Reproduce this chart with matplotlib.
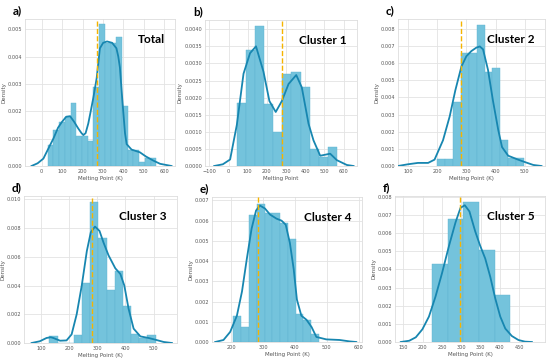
# melting point distributions - total + 5 clusters, 2x3 grid of hist + kde
import numpy as np
import matplotlib
matplotlib.use("Agg")
import matplotlib.pyplot as plt
from matplotlib.ticker import FormatStrFormatter

# ---- panel a) Total ----
total_edges = [29, 57, 85, 113, 141, 169, 197, 225, 253, 281, 309, 337, 365, 393, 421, 449, 477, 505, 533, 561]
total_heights = [0.00075, 0.0013, 0.0016, 0.0018, 0.0023, 0.0011, 0.0011, 0.0009, 0.0029, 0.0052,
                 0.0045, 0.0045, 0.0047, 0.0022, 0.0006, 0.0006, 0.00015, 0.0003, 0.0003]
total_kde_x = [-50, -20, 8, 30, 57, 80, 98, 120, 139, 160, 179, 195, 204, 215, 228, 240, 253, 269, 285,
               301, 320, 345, 366, 375, 383, 395, 408, 416, 440, 481, 510, 546, 580, 636]
total_kde_y = [0.0, 0.0001, 0.00027, 0.0006, 0.001, 0.0014, 0.0016, 0.0018, 0.00182, 0.0016, 0.00137,
               0.0012, 0.00113, 0.0012, 0.00155, 0.002, 0.0025, 0.0032, 0.0043, 0.0045, 0.00455, 0.0045,
               0.0043, 0.004, 0.0036, 0.0024, 0.0012, 0.0008, 0.0006, 0.0005, 0.00035, 0.0002, 0.00008, 0.0]
total_mark = 271

# ---- panel b) Cluster 1 ----
c1_edges = [43 + 47.5 * k for k in range(12)]
c1_heights = [0.00185, 0.0034, 0.0041, 0.0018, 0.001, 0.0027, 0.00275, 0.0023, 0.0005, 0.00025, 0.00055]
c1_kde_x = [-75, -30, 8, 43, 78, 112, 143, 182, 213, 246, 278, 313, 353, 382, 417, 443, 478, 530, 565, 617, 652]
c1_kde_y = [0.0, 0.00005, 0.00019, 0.0012, 0.0027, 0.0033, 0.0035, 0.00276, 0.0019, 0.00158, 0.0019,
            0.0024, 0.00266, 0.0023, 0.00124, 0.00075, 0.0003, 0.00036, 0.00017, 0.00003, 0.0]
c1_mark = 278

# ---- panel c) Cluster 2 ----
c2_edges = [200.6 + 26.9 * k for k in range(12)]
c2_heights = [0.0004, 0.0004, 0.00375, 0.0066, 0.0066, 0.0082, 0.0055, 0.0057, 0.0015, 0.00045, 0.00045]
c2_kde_x = [66, 100, 134, 169, 191, 220, 243, 262, 283, 300, 317, 334, 346, 357, 374, 391, 409, 422,
            443, 477, 500, 529, 557]
c2_kde_y = [0.0, 0.0001, 0.00018, 0.00018, 0.00037, 0.0015, 0.0029, 0.0044, 0.0058, 0.0064, 0.0067,
            0.0069, 0.00697, 0.0068, 0.0056, 0.0038, 0.0021, 0.0011, 0.0006, 0.00037, 0.00023, 0.00006, 0.0]
c2_mark = 281

# ---- panel d) Cluster 3 ----
c3_edges = [130 + 29 * k for k in range(14)]
c3_heights = [0.00046, 0, 0, 0.00058, 0.0042, 0.0098, 0.0073, 0.0037, 0.005, 0.0026, 0.0006, 0.00035, 0.00058]
c3_kde_x = [67, 96, 120, 135, 144, 168, 191, 209, 227, 245, 263, 277, 292, 308, 322, 340, 364, 382,
            396, 411, 429, 453, 482, 506, 536, 565]
c3_kde_y = [0.0, 0.00012, 0.00035, 0.0004, 0.00035, 0.00016, 0.00018, 0.0006, 0.002, 0.004, 0.0064,
            0.0077, 0.0081, 0.0078, 0.007, 0.0061, 0.0052, 0.0048, 0.004, 0.0024, 0.001, 0.00046,
            0.00035, 0.00023, 0.00007, 0.0]
c3_mark = 280

# ---- panel e) Cluster 4 ----
c4_edges = [207 + 24.4 * k for k in range(12)]
c4_heights = [0.0013, 0.00075, 0.0063, 0.0068, 0.0064, 0.0064, 0.0059, 0.0051, 0.0014, 0.0011, 0.0004]
c4_kde_x = [150, 176, 197, 218, 234, 249, 264, 278, 290, 306, 322, 342, 358, 371, 384, 396, 406, 420,
            436, 452, 467, 498, 540, 571, 592]
c4_kde_y = [0.0, 0.0001, 0.0005, 0.0013, 0.0025, 0.0041, 0.0056, 0.0065, 0.00675, 0.0066, 0.0063,
            0.0061, 0.006, 0.0058, 0.0049, 0.0036, 0.0021, 0.0013, 0.0011, 0.00074, 0.00025, 0.00013,
            0.0001, 0.00003, 0.0]
c4_mark = 284

# ---- panel f) Cluster 5 ----
c5_edges = [224.8, 265.2, 305.6, 346.0, 386.4, 426.8]
c5_heights = [0.0043, 0.0068, 0.0077, 0.0051, 0.0026]
c5_kde_x = [143, 165, 182, 199, 216, 233, 250, 268, 285, 298, 309, 321, 336, 349, 362, 375, 388, 401,
            414, 431, 448, 465, 483]
c5_kde_y = [0.0, 0.00007, 0.00026, 0.0007, 0.0014, 0.0025, 0.0038, 0.0053, 0.0066, 0.0074, 0.00754,
            0.0072, 0.0061, 0.0053, 0.0046, 0.0036, 0.0024, 0.0014, 0.00074, 0.00033, 0.00011, 0.00002, 0.0]
c5_mark = 296

BAR_COLOR = "#74c3dc"
LINE_COLOR = "#1786b0"
MARK_COLOR = "#f5b400"
W, H = 550, 364

# axes boxes in pixels: left, top, right, bottom
panels = [
    dict(letter="a)", name="Total", edges=total_edges, heights=total_heights, kx=total_kde_x, ky=total_kde_y,
         mark=total_mark, box=(25, 19, 175, 166), xlim=(-82, 653), ylim=0.00537,
         xticks=range(0, 601, 100), yticks=np.arange(0, 0.0051, 0.001), yfmt="%.3f", xlabel="Melting Point (K)"),
    dict(letter="b)", name="Cluster 1", edges=c1_edges, heights=c1_heights, kx=c1_kde_x, ky=c1_kde_y,
         mark=c1_mark, box=(205, 20, 357, 166), xlim=(-123, 670), ylim=0.00427,
         xticks=range(-100, 601, 100), yticks=np.arange(0, 0.00401, 0.0005), yfmt="%.4f", xlabel="Melting Point"),
    dict(letter="c)", name="Cluster 2", edges=c2_edges, heights=c2_heights, kx=c2_kde_x, ky=c2_kde_y,
         mark=c2_mark, box=(398, 19, 545, 166), xlim=(66, 569), ylim=0.00857,
         xticks=range(100, 501, 100), yticks=np.arange(0, 0.0081, 0.001), yfmt="%.3f", xlabel="Melting Point (K)"),
    dict(letter="d)", name="Cluster 3", edges=c3_edges, heights=c3_heights, kx=c3_kde_x, ky=c3_kde_y,
         mark=c3_mark, box=(24, 196, 177, 343), xlim=(40, 583), ylim=0.01023,
         xticks=range(100, 501, 100), yticks=np.arange(0, 0.0101, 0.002), yfmt="%.3f", xlabel="Melting Point (K)"),
    dict(letter="e)", name="Cluster 4", edges=c4_edges, heights=c4_heights, kx=c4_kde_x, ky=c4_kde_y,
         mark=c4_mark, box=(212, 197, 362, 342), xlim=(140, 610), ylim=0.00717,
         xticks=range(200, 601, 100), yticks=np.arange(0, 0.0071, 0.001), yfmt="%.3f", xlabel="Melting Point (K)"),
    dict(letter="f)", name="Cluster 5", edges=c5_edges, heights=c5_heights, kx=c5_kde_x, ky=c5_kde_y,
         mark=c5_mark, box=(395, 196, 545, 342), xlim=(128, 517), ylim=0.00805,
         xticks=range(150, 451, 50), yticks=np.arange(0, 0.0081, 0.001), yfmt="%.3f", xlabel="Melting Point (K)"),
]

fig = plt.figure(figsize=(W / 100, H / 100), dpi=100)
fig.patch.set_facecolor("white")

for p in panels:
    l, t, r, b = p["box"]
    ax = fig.add_axes([l / W, (H - b) / H, (r - l) / W, (b - t) / H])
    ax.set_facecolor("white")
    edges = np.array(p["edges"])
    ax.bar(edges[:-1], p["heights"], width=np.diff(edges), align="edge",
           color=BAR_COLOR, edgecolor="#5eb3d0", linewidth=0.3, zorder=2)
    ax.plot(p["kx"], p["ky"], color=LINE_COLOR, linewidth=1.3, zorder=3)
    ax.axvline(p["mark"], color=MARK_COLOR, linestyle="--", linewidth=1.0, zorder=4)

    ax.set_xlim(*p["xlim"])
    ax.set_ylim(0, p["ylim"])
    ax.set_xticks(list(p["xticks"]))
    ax.set_yticks(p["yticks"])
    ax.yaxis.set_major_formatter(FormatStrFormatter(p["yfmt"]))
    ax.grid(True, color="#e3e3e3", linewidth=0.6, zorder=0)
    ax.set_axisbelow(True)
    ax.tick_params(length=0, labelsize=3.6, colors="#555555", pad=2)
    for s in ax.spines.values():
        s.set_color("#dddddd")
        s.set_linewidth(0.6)
    ax.set_xlabel(p["xlabel"], fontsize=4, color="#555555", labelpad=1.5)
    ax.set_ylabel("Density", fontsize=4, color="#555555", labelpad=1)

    # cluster name inside top right
    ax.text(0.93, 0.86, p["name"], transform=ax.transAxes, ha="right", va="center",
            fontsize=8.5, fontweight="bold", family="Lato", color="black", zorder=5)
    # panel letter above the top left corner
    fig.text((l - 12) / W, 1 - (t - 8) / H, p["letter"], ha="left", va="center",
             fontsize=8.5, fontweight="bold", family="Lato")

fig.savefig("out.png", dpi=100, facecolor="white")
